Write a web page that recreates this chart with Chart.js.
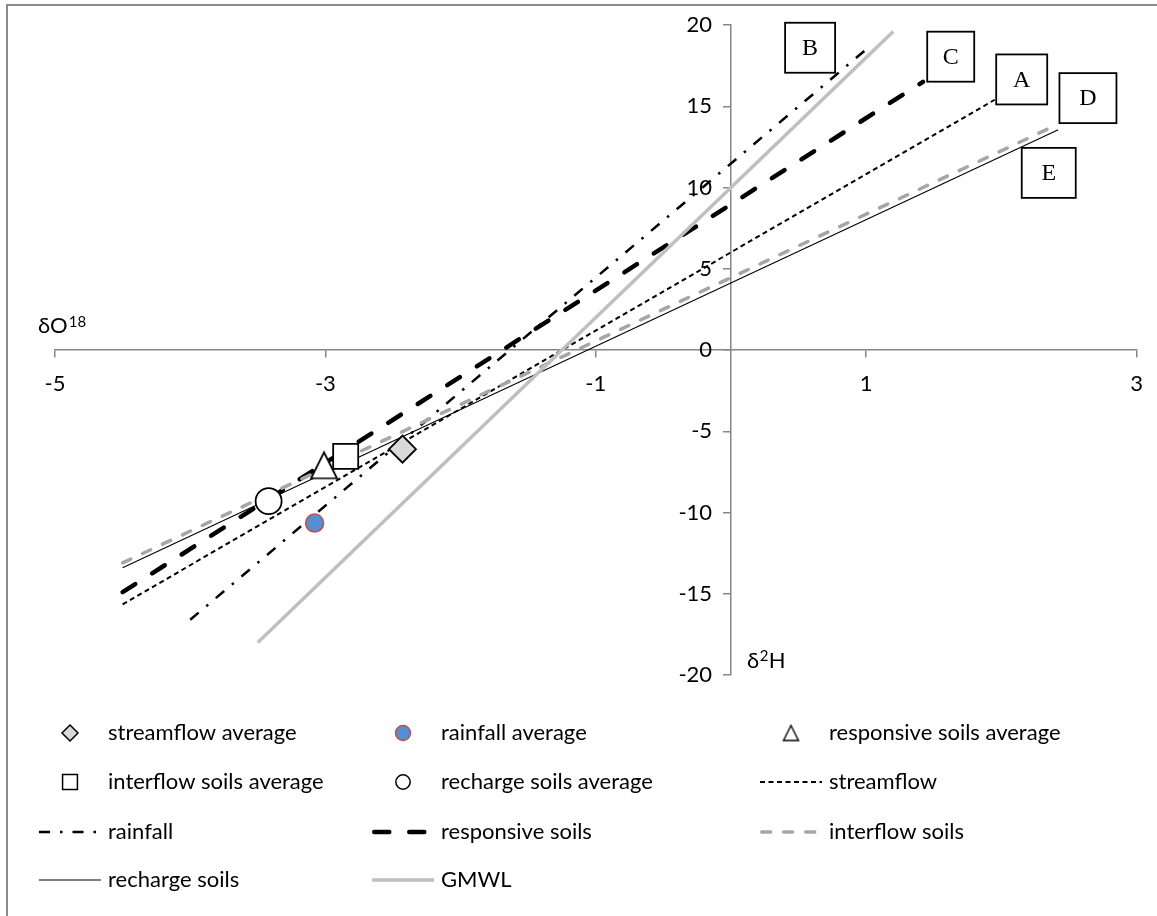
<!DOCTYPE html>
<html>
<head>
<meta charset="utf-8">
<script src="https://cdn.jsdelivr.net/npm/chart.js@4.4.1/dist/chart.umd.min.js"></script>
<style>
  html, body { margin: 0; padding: 0; background: #ffffff; }
  #wrap { width: 1157px; height: 916px; position: relative; }
</style>
</head>
<body>
<div id="wrap"><canvas id="c" width="1157" height="916"></canvas></div>
<script>
// Axis ticks (δ18O along x, δ2H along y)
const xTickValues = [-5, -3, -1, 1, 3];
const yMin = -20, yMax = 20, yStep = 5;

// Mean isotopic composition of each water source
const streamflowAvg  = [{ x: -2.43, y: -6.1 }];
const rainfallAvg    = [{ x: -3.08, y: -10.65 }];
const responsiveAvg  = [{ x: -3.01, y: -7.1 }];
const interflowAvg   = [{ x: -2.85, y: -6.55 }];
const rechargeAvg    = [{ x: -3.42, y: -9.3 }];

// Regression lines (end points) and the global meteoric water line
const streamflowLine = [{ x: -4.5, y: -15.65 }, { x: 1.95, y: 15.4 }];
const rainfallLine   = [{ x: -4.0, y: -16.6 },  { x: 1.0,  y: 18.5 }];
const responsiveLine = [{ x: -4.5, y: -14.9 },  { x: 1.42, y: 16.5 }];
const interflowLine  = [{ x: -4.5, y: -13.1 },  { x: 2.42, y: 13.9 }];
const rechargeLine   = [{ x: -4.5, y: -13.4 },  { x: 2.42, y: 13.55 }];
const gmwlLine       = [{ x: -3.5, y: -18.0 },  { x: 1.2,  y: 19.6 }];

// Letter call-outs placed next to the line ends (centre in data units)
const callouts = [
  { text: 'B', x: 0.585, y: 18.6,  w: 50 },
  { text: 'C', x: 1.625, y: 18.05, w: 47 },
  { text: 'A', x: 2.15,  y: 16.65, w: 51 },
  { text: 'D', x: 2.64,  y: 15.5,  w: 57 },
  { text: 'E', x: 2.35,  y: 10.9,  w: 54 }
];

const AXIS_GREY = '#868686';
const UI_FONT = 'Lato, "Open Sans", sans-serif';

// Open triangle marker (as wide as it is tall)
function triangleMarker(size, lw) {
  const c = document.createElement('canvas');
  const pad = Math.ceil(lw) + 1;
  c.width = size + pad * 2; c.height = size + pad * 2;
  const g = c.getContext('2d');
  g.beginPath();
  g.moveTo(pad + size / 2, pad);
  g.lineTo(pad + size, pad + size);
  g.lineTo(pad, pad + size);
  g.closePath();
  g.fillStyle = '#ffffff'; g.fill();
  g.lineWidth = lw; g.strokeStyle = '#000000'; g.lineJoin = 'miter'; g.stroke();
  return c;
}
const triBig = triangleMarker(26, 1.7);
const triSmall = triangleMarker(15, 1.4);

const datasets = [
  { label: 'streamflow average', data: streamflowAvg, pointStyle: 'rectRot', pointRadius: 13.5,
    backgroundColor: '#d9d9d9', borderColor: '#000000', borderWidth: 1.8, legendRadius: 8 },
  { label: 'rainfall average', data: rainfallAvg, pointStyle: 'circle', pointRadius: 9,
    backgroundColor: '#558ed5', borderColor: '#c0504d', borderWidth: 1.6, legendRadius: 7.5 },
  { label: 'responsive soils average', data: responsiveAvg, pointStyle: triBig, pointRadius: 14,
    backgroundColor: '#ffffff', borderColor: '#000000', borderWidth: 1.7, legendImage: triSmall },
  { label: 'interflow soils average', data: interflowAvg, pointStyle: 'rect', pointRadius: 17.7,
    backgroundColor: '#ffffff', borderColor: '#000000', borderWidth: 1.8, legendRadius: 10.5 },
  { label: 'recharge soils average', data: rechargeAvg, pointStyle: 'circle', pointRadius: 13,
    backgroundColor: '#ffffff', borderColor: '#000000', borderWidth: 1.8, legendRadius: 7.2 },
  { label: 'streamflow', data: streamflowLine, showLine: true, pointRadius: 0, order: 6,
    borderColor: '#000000', borderWidth: 2, borderDash: [5, 3.5] },
  { label: 'rainfall', data: rainfallLine, showLine: true, pointRadius: 0, order: 5,
    borderColor: '#000000', borderWidth: 2.5, borderDash: [11, 10, 2.5, 10] },
  { label: 'responsive soils', data: responsiveLine, showLine: true, pointRadius: 0, order: 4,
    borderColor: '#000000', borderWidth: 4.5, borderDash: [15, 20], borderCapStyle: 'round' },
  { label: 'interflow soils', data: interflowLine, showLine: true, pointRadius: 0, order: 3,
    borderColor: '#a6a6a6', borderWidth: 3.5, borderDash: [9, 13], borderCapStyle: 'round' },
  { label: 'recharge soils', data: rechargeLine, showLine: true, pointRadius: 0, order: 2,
    borderColor: '#000000', borderWidth: 1.1 },
  { label: 'GMWL', data: gmwlLine, showLine: true, pointRadius: 0, order: 1,
    borderColor: '#bfbfbf', borderWidth: 3.5 }
];
datasets.forEach(d => {
  d.fill = false;
  if (d.order === undefined) d.order = 0;
  if (d.showLine) { d.pointHoverRadius = 0; }
});

// Grey frame along the top and left edges
const framePlugin = {
  id: 'frame',
  beforeDraw(chart) {
    const ctx = chart.ctx;
    ctx.save();
    ctx.fillStyle = '#ffffff';
    ctx.fillRect(0, 0, chart.width, chart.height);
    ctx.strokeStyle = '#8a8a8a';
    ctx.lineWidth = 2;
    ctx.beginPath();
    ctx.moveTo(7, chart.height);
    ctx.lineTo(7, 5);
    ctx.lineTo(chart.width, 5);
    ctx.stroke();
    ctx.restore();
  }
};

// Axis captions drawn next to the crossing axes
const captionPlugin = {
  id: 'captions',
  afterDraw(chart) {
    const { ctx, scales: { x, y } } = chart;
    ctx.save();
    ctx.fillStyle = '#000000';
    ctx.textBaseline = 'alphabetic';
    ctx.textAlign = 'left';
    // δO18 beside the horizontal axis
    let px = x.getPixelForValue(-5) - 17;
    let py = y.getPixelForValue(0) - 17;
    ctx.font = '22px ' + UI_FONT;
    ctx.fillText('δO', px, py);
    px += ctx.measureText('δO').width + 1;
    ctx.font = '15px ' + UI_FONT;
    ctx.fillText('18', px, py - 6);
    // δ2H beside the vertical axis
    px = x.getPixelForValue(0) + 16;
    py = y.getPixelForValue(-20) - 7;
    ctx.font = '22px ' + UI_FONT;
    ctx.fillText('δ', px, py);
    px += ctx.measureText('δ').width + 0.5;
    ctx.font = '15px ' + UI_FONT;
    ctx.fillText('2', px, py - 7);
    px += ctx.measureText('2').width + 0.5;
    ctx.font = '22px ' + UI_FONT;
    ctx.fillText('H', px, py);
    ctx.restore();
  }
};

// Boxed letters that name the lines
const calloutPlugin = {
  id: 'callouts',
  afterDatasetsDraw(chart) {
    const { ctx, scales: { x, y } } = chart;
    ctx.save();
    ctx.font = '24px "Liberation Serif", "Times New Roman", serif';
    ctx.textAlign = 'center';
    ctx.textBaseline = 'middle';
    callouts.forEach(c => {
      const cx = x.getPixelForValue(c.x);
      const cy = y.getPixelForValue(c.y);
      const w = c.w, h = 50;
      ctx.fillStyle = '#ffffff';
      ctx.fillRect(cx - w / 2, cy - h / 2, w, h);
      ctx.strokeStyle = '#000000';
      ctx.lineWidth = 1.8;
      ctx.strokeRect(cx - w / 2, cy - h / 2, w, h);
      ctx.fillStyle = '#000000';
      ctx.fillText(c.text, cx, cy + 1);
    });
    ctx.restore();
  }
};

// Three-column legend below the plot
function legendMarker(ctx, d, cx, cy) {
  ctx.save();
  ctx.lineWidth = 1.5;
  ctx.strokeStyle = d.borderColor;
  ctx.fillStyle = d.backgroundColor;
  if (d.legendImage) {
    ctx.drawImage(d.legendImage, cx - d.legendImage.width / 2, cy - d.legendImage.height / 2);
    ctx.restore();
    return;
  }
  const r = d.legendRadius;
  ctx.beginPath();
  if (d.pointStyle === 'circle') {
    ctx.arc(cx, cy, r, 0, Math.PI * 2);
  } else if (d.pointStyle === 'rectRot') {
    ctx.moveTo(cx - r, cy); ctx.lineTo(cx, cy - r); ctx.lineTo(cx + r, cy); ctx.lineTo(cx, cy + r);
    ctx.closePath();
  } else {
    const s = r * Math.SQRT1_2;
    ctx.rect(cx - s, cy - s, 2 * s, 2 * s);
  }
  ctx.fill();
  ctx.stroke();
  ctx.restore();
}

const legendPlugin = {
  id: 'gridLegend',
  afterDraw(chart) {
    const ctx = chart.ctx;
    const colStart = [39, 372, 760];
    const rowY = [733, 782, 832, 880];
    const sampleW = 62;
    ctx.save();
    ctx.font = '22px ' + UI_FONT;
    ctx.textBaseline = 'middle';
    ctx.textAlign = 'left';
    chart.data.datasets.forEach((d, i) => {
      const col = i % 3, row = Math.floor(i / 3);
      const x0 = colStart[col], cy = rowY[row];
      if (d.showLine) {
        ctx.save();
        ctx.strokeStyle = d.borderColor;
        ctx.lineWidth = d.borderWidth;
        ctx.setLineDash(d.borderDash || []);
        ctx.lineCap = d.borderCapStyle || 'butt';
        ctx.beginPath();
        const inset = d.borderCapStyle === 'round' ? d.borderWidth / 2 : 0;
        ctx.moveTo(x0 + inset, cy);
        ctx.lineTo(x0 + sampleW - inset, cy);
        ctx.stroke();
        ctx.restore();
      } else {
        legendMarker(ctx, d, x0 + sampleW / 2, cy);
      }
      ctx.fillStyle = '#000000';
      ctx.fillText(d.label, x0 + 69, cy);
    });
    ctx.restore();
  }
};

const axisGrid = { display: true, drawOnChartArea: false, drawTicks: true, tickLength: 7,
                   color: AXIS_GREY, lineWidth: 1.5 };
const tickFont = { family: UI_FONT, size: 22 };

new Chart(document.getElementById('c'), {
  type: 'scatter',
  data: { datasets },
  options: {
    responsive: false,
    animation: false,
    events: [],
    layout: { padding: { left: 55, right: 18, top: 25, bottom: 241 } },
    plugins: {
      legend: { display: false },
      tooltip: { enabled: false },
      title: { display: false }
    },
    scales: {
      x: {
        type: 'linear',
        position: { y: 0 },
        min: xTickValues[0],
        max: xTickValues[xTickValues.length - 1],
        afterBuildTicks(scale) { scale.ticks = xTickValues.map(v => ({ value: v })); },
        grid: axisGrid,
        border: { display: true, color: AXIS_GREY, width: 1.5 },
        ticks: { color: '#000000', font: tickFont, padding: 14, maxRotation: 0, autoSkip: false }
      },
      // vertical axis line and its tick marks, crossing at δ18O = 0
      y: {
        type: 'linear',
        position: { x: 0 },
        min: yMin,
        max: yMax,
        ticks: { stepSize: yStep, display: false },
        grid: axisGrid,
        border: { display: true, color: AXIS_GREY, width: 1.5 }
      },
      // tick numbers for the vertical axis, set just left of its tick marks
      yLabels: {
        type: 'linear',
        axis: 'y',
        position: { x: -0.14 },
        min: yMin,
        max: yMax,
        ticks: { stepSize: yStep, color: '#000000', font: tickFont, autoSkip: false },
        grid: { display: false },
        border: { display: false }
      }
    }
  },
  plugins: [framePlugin, calloutPlugin, captionPlugin, legendPlugin]
});
</script>
</body>
</html>
